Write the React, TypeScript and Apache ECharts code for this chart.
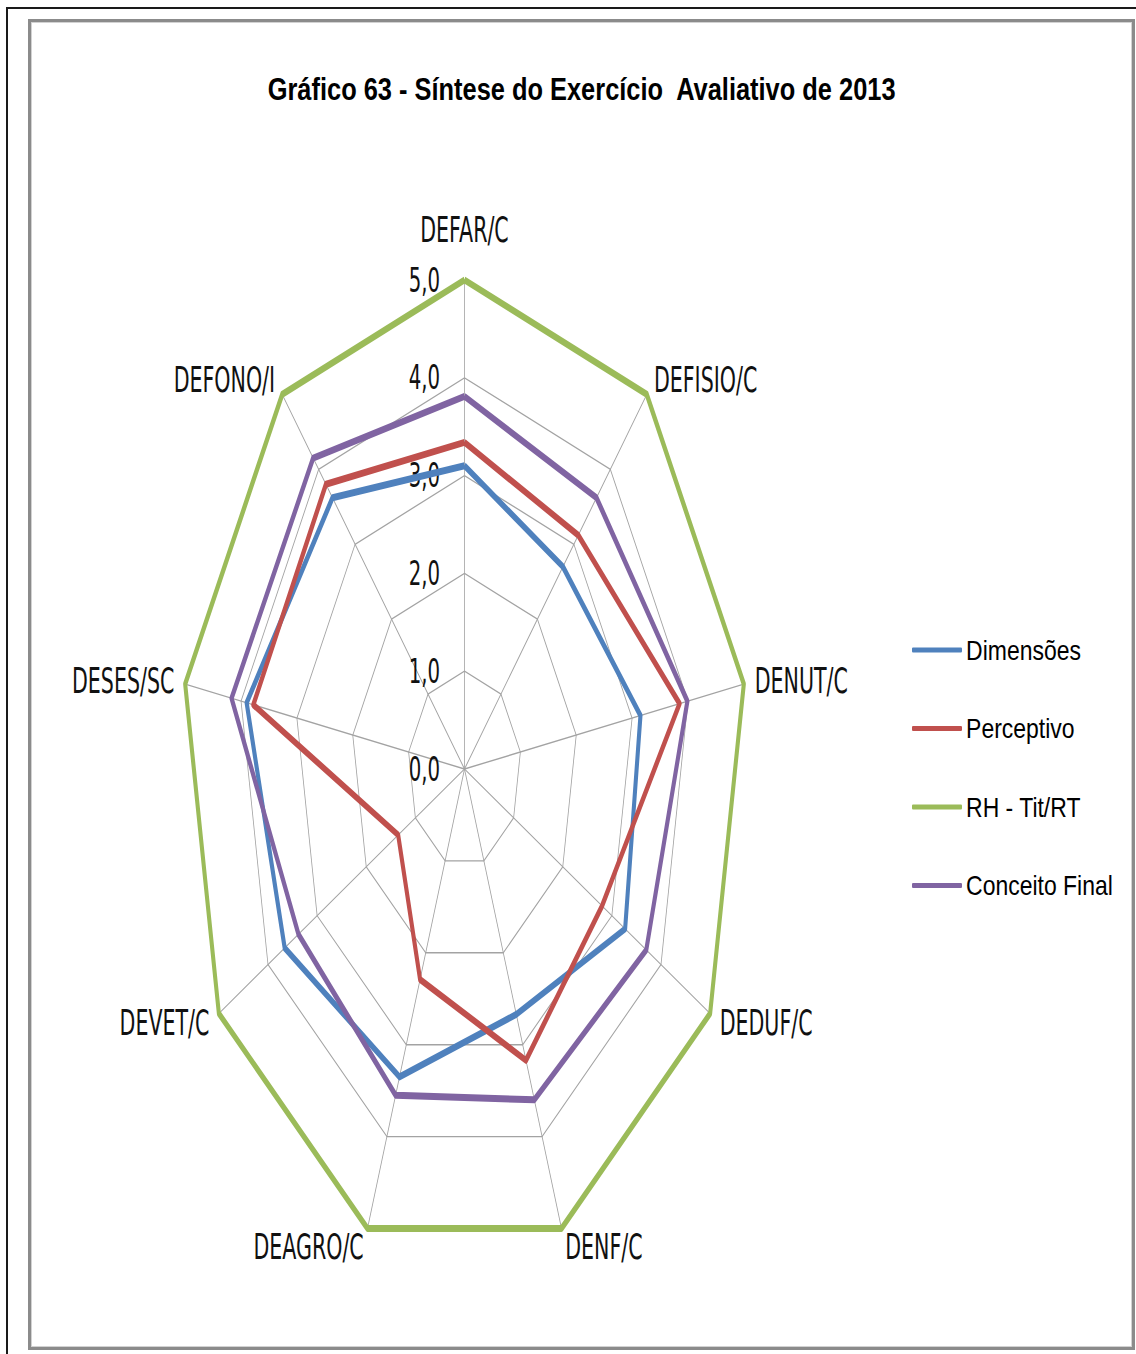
import React, { useEffect, useRef } from "react";
import * as echarts from "echarts";

// ---------- data ----------
const indicatorNames = [
  "DEFAR/C",
  "DEFISIO/C",
  "DENUT/C",
  "DEDUF/C",
  "DENF/C",
  "DEAGRO/C",
  "DEVET/C",
  "DESES/SC",
  "DEFONO/I",
];
const tickLabels = ["0,0", "1,0", "2,0", "3,0", "4,0", "5,0"];
const seriesNames = ["Dimensões", "Perceptivo", "RH - Tit/RT", "Conceito Final"];
const dimensoes = [3.1, 2.7, 3.15, 3.27, 2.67, 3.35, 3.66, 3.9, 3.62];
const perceptivo = [3.34, 3.12, 3.85, 2.8, 3.17, 2.29, 1.35, 3.78, 3.8];
const rhTitRt = [5, 5, 5, 5, 5, 5, 5, 5, 5];
const conceitoFinal = [3.81, 3.62, 3.99, 3.7, 3.6, 3.55, 3.38, 4.17, 4.15];
const titleText = "Gráfico 63 - Síntese do Exercício  Avaliativo de 2013";

// ---------- styling ----------
const colors = ["#4F81BD", "#C0504D", "#9BBB59", "#8064A2"];
const SX = 0.58; // horizontal squeeze of the plot
const SXT = 0.82; // horizontal squeeze of title / legend text
const AREA_W = 1101;
const AREA_H = 1325;
const A_W = AREA_W / SX;
const B_W = AREA_W / SXT;

// ECharts lays indicators counter-clockwise; the reference runs clockwise.
const clockwise = <T,>(arr: T[]): T[] => [arr[0], ...arr.slice(1).reverse()];

export default function App() {
  const aRef = useRef<HTMLDivElement>(null);
  const bRef = useRef<HTMLDivElement>(null);

  useEffect(() => {
    const a = echarts.init(aRef.current!, null, { renderer: "svg" });
    const b = echarts.init(bRef.current!, null, { renderer: "svg" });

    const allSeries = [dimensoes, perceptivo, rhTitRt, conceitoFinal];

    a.setOption({
      animation: false,
      radar: {
        center: [(464.5 - 31) / SX, 747],
        radius: 489,
        startAngle: 90,
        splitNumber: 5,
        shape: "polygon",
        nameGap: 19,
        axisName: {
          color: "#111",
          fontFamily: "DejaVu Sans",
          fontSize: 35.5,
        },
        indicator: clockwise(indicatorNames).map((name, i) =>
          i === 0
            ? {
                name,
                min: 0,
                max: 5,
                nameGap: 32,
                axisLabel: {
                  show: true,
                  color: "#111",
                  fontFamily: "DejaVu Sans",
                  fontSize: 34,
                  margin: 42,
                  formatter: (v: number) => tickLabels[Math.round(v)],
                },
              }
            : { name, min: 0, max: 5 }
        ),
        axisLine: { lineStyle: { color: "#a3a3a3", width: 1.4 } },
        splitLine: { lineStyle: { color: "#a3a3a3", width: 1.4 } },
        splitArea: { show: false },
        axisTick: { show: false },
        axisLabel: { show: false },
      },
      series: seriesNames.map((name, i) => ({
        type: "radar",
        name,
        symbol: "none",
        lineStyle: { color: colors[i], width: 7, join: "round" },
        itemStyle: { color: colors[i] },
        data: [{ name, value: clockwise(allSeries[i]) }],
      })),
    });

    const font = "'Liberation Sans', Arial, sans-serif";
    b.setOption({
      animation: false,
      color: colors,
      title: {
        text: titleText,
        left: "center",
        top: 47,
        textStyle: {
          fontFamily: font,
          fontWeight: "bold",
          fontSize: 31,
          lineHeight: 31,
          color: "#000",
        },
      },
      legend: {
        orient: "vertical",
        left: (912 - 31) / SXT,
        top: 613,
        padding: 0,
        itemWidth: 50 / SXT,
        itemHeight: 5,
        itemGap: 48.5,
        icon: "roundRect",
        data: seriesNames,
        textStyle: {
          fontFamily: font,
          fontSize: 28,
          lineHeight: 30,
          color: "#000",
        },
      },
      grid: { left: 0, top: 0, width: 10, height: 10, show: false },
      xAxis: { type: "value", show: false },
      yAxis: { type: "value", show: false },
      series: seriesNames.map((name, i) => ({
        type: "line",
        name,
        data: [],
        itemStyle: { color: colors[i] },
        lineStyle: { color: colors[i] },
      })),
    });

    return () => {
      a.dispose();
      b.dispose();
    };
  }, []);

  return (
    <div
      style={{
        position: "absolute",
        left: 0,
        top: 0,
        width: 1136,
        height: 1354,
        overflow: "hidden",
        background: "#fff",
      }}
    >
      <div
        style={{
          position: "absolute",
          left: 6,
          top: 7,
          width: 1300,
          height: 1500,
          border: "2px solid #1a1a1a",
          boxSizing: "border-box",
        }}
      />
      <div
        style={{
          position: "absolute",
          left: 28,
          top: 19,
          width: 1107,
          height: 1331,
          border: "3px solid #8b8b8b",
          boxSizing: "border-box",
          boxShadow: "inset 0 0 0 1px #d2d2d2",
          background: "#fff",
        }}
      />
      <div
        ref={aRef}
        style={{
          position: "absolute",
          left: 31,
          top: 22,
          width: A_W,
          height: AREA_H,
          transform: `scaleX(${SX})`,
          transformOrigin: "0 0",
        }}
      />
      <div
        ref={bRef}
        style={{
          position: "absolute",
          left: 31,
          top: 22,
          width: B_W,
          height: AREA_H,
          transform: `scaleX(${SXT})`,
          transformOrigin: "0 0",
          pointerEvents: "none",
        }}
      />
    </div>
  );
}
